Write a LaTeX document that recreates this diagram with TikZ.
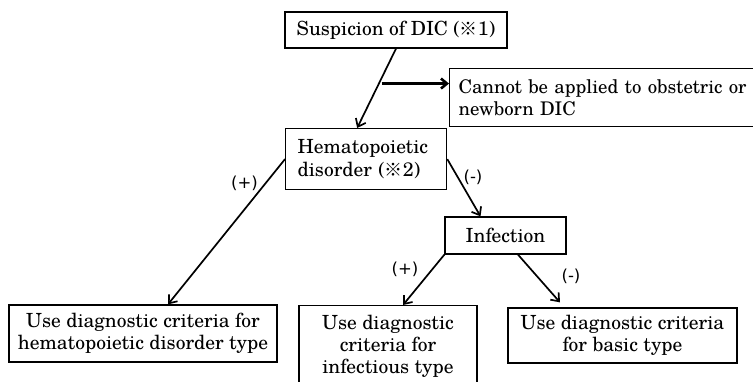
\documentclass[tikz,border=0pt]{standalone}
\usepackage{fontspec}
\setmainfont{texgyreschola-regular.otf}
\newfontfamily\cjk{Noto Sans CJK JP}
\newfontfamily\lblfont{DejaVu Sans}
\usetikzlibrary{arrows.meta,calc}
\newcommand\refmark{{\cjk\fontsize{18}{20}\selectfont ※}}
\begin{document}
\begin{tikzpicture}[x=1pt,y=-1pt,
  font=\fontsize{19.5}{22.3}\selectfont,
  box/.style={draw, line width=1.3pt, inner sep=0pt},
  conn/.style={line width=1.7pt, -{Straight Barb[length=7pt,width=11pt]}},
  thickconn/.style={line width=2.6pt, -{Straight Barb[length=6pt,width=10pt]}},
  lbl/.style={font=\lblfont\fontsize{16.5}{18}\selectfont, inner sep=0pt}]
\useasboundingbox (0,0) rectangle (753,382);
\clip (0,0) rectangle (753,382);

\node[box, minimum width=222pt, minimum height=36pt, align=center] (top) at (396,30) {Suspicion of DIC (\refmark1)};
\node[box, anchor=north west, text width=330pt, inner xsep=9pt, minimum height=58pt, align=left, font=\fontsize{18.8}{22.3}\selectfont] (cannot) at (449,68) {Cannot be applied to obstetric or\\newborn DIC};
\node[box, anchor=north west, text width=137pt, inner xsep=12pt, minimum height=61pt, align=left] (hemat) at (285,128) {Hematopoietic\\disorder (\refmark2)};
\node[box, minimum width=121pt, minimum height=37pt] (inf) at (505.5,235.5) {Infection};
\node[box, minimum width=268pt, minimum height=57pt, align=center] (lbox) at (143,333.5) {Use diagnostic criteria for\\hematopoietic disorder type};
\node[box, anchor=north, minimum width=178pt, minimum height=81pt, align=center] (mbox) at (388,305) {Use diagnostic\\criteria for\\infectious type};
\node[box, minimum width=229pt, minimum height=55pt, align=center] (rbox) at (622.5,335.5) {Use diagnostic criteria\\for basic type};

\coordinate (hm) at ($(hemat.north)+(-9,0)$);
\draw[conn] (top.south) -- (hm);
\coordinate (side) at ($(top.south)!0.44!(hm)$);
\draw[thickconn] ($(side)+(3,0)$) -- (side -| cannot.west);

\draw[conn] (hemat.west) -- ($(lbox.north)+(25,0)$);
\draw[conn] (hemat.east) -- ($(inf.north)+(-25,0)$);
\draw[conn] (inf.south west) -- ($(mbox.north)+(15,0)$);
\draw[conn] ($(inf.south)+(12.5,0)$) -- ($(rbox.north)+(-62.5,-5)$);

\node[lbl] (p1) at (244.5,183) {(+)};
\node[lbl] (m1) at (473,177) {(-)};
\node[lbl] (p2) at (405,269) {(+)};
\node[lbl] (m2) at (571,276) {(-)};
\end{tikzpicture}
\end{document}
